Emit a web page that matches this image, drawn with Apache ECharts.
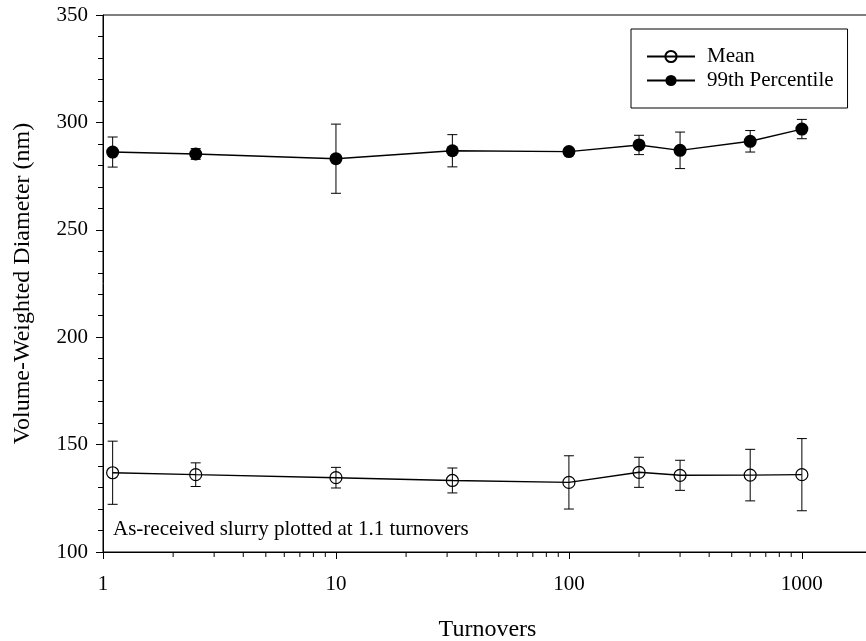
<!DOCTYPE html>
<html>
<head>
<meta charset="utf-8">
<script src="https://cdn.jsdelivr.net/npm/echarts@6/dist/echarts.min.js"></script>
<style>
html,body{margin:0;padding:0;background:#fff;}
#chart{width:866px;height:641px;}
</style>
</head>
<body>
<div id="chart"></div>
<script>
// ---- data ----
const turnovers = [1.1, 2.5, 10, 31.6, 100, 200, 300, 600, 1000];
const meanValues = [136.9, 136.0, 134.6, 133.3, 132.4, 137.1, 135.7, 135.8, 136.0];
const meanErrors = [14.7, 5.5, 4.8, 5.8, 12.4, 7.0, 7.0, 12.0, 16.8];
const p99Values = [286.2, 285.3, 283.1, 286.8, 286.4, 289.5, 287.0, 291.2, 296.9];
const p99Errors = [7.0, 2.5, 16.1, 7.5, 1.0, 4.5, 8.5, 5.0, 4.5];
const xTickLabels = [1, 10, 100, 1000];
const xMinorTicks = [2,3,4,5,6,7,8,9,20,30,40,50,60,70,80,90,200,300,400,500,600,700,800,900];
const yTickLabels = [100, 150, 200, 250, 300, 350];

const FONT = '"Liberation Serif", "Times New Roman", serif';

function pairs(xs, ys) { return xs.map((x, i) => [x, ys[i]]); }
function errData(xs, ys, es) { return xs.map((x, i) => [x, ys[i] - es[i], ys[i] + es[i]]); }

function errorBarItem(params, api) {
  const x = api.value(0);
  const lo = api.coord([x, api.value(1)]);
  const hi = api.coord([x, api.value(2)]);
  const cap = 5;
  const style = { stroke: '#000', lineWidth: 1, fill: null };
  return {
    type: 'group',
    children: [
      { type: 'line', shape: { x1: lo[0], y1: lo[1], x2: hi[0], y2: hi[1] }, style: style },
      { type: 'line', shape: { x1: lo[0] - cap, y1: lo[1], x2: lo[0] + cap, y2: lo[1] }, style: style },
      { type: 'line', shape: { x1: hi[0] - cap, y1: hi[1], x2: hi[0] + cap, y2: hi[1] }, style: style }
    ]
  };
}

function minorTickItem(params, api) {
  const p = api.coord([api.value(0), api.value(1)]);
  return {
    type: 'line',
    shape: { x1: p[0], y1: p[1], x2: p[0], y2: p[1] + 5 },
    style: { stroke: '#000', lineWidth: 1 }
  };
}

const chart = echarts.init(document.getElementById('chart'), null, { renderer: 'canvas' });
chart.setOption({
  animation: false,
  backgroundColor: '#fff',
  grid: {
    left: 103, top: 15, width: 769, bottom: 89,
    outerBoundsMode: 'none', containLabel: false,
    show: true, borderColor: '#000', borderWidth: 1, backgroundColor: 'transparent'
  },
  xAxis: {
    type: 'log', logBase: 10, min: 1, max: 2000,
    name: 'Turnovers', nameLocation: 'middle', nameGap: 66,
    nameTextStyle: { fontFamily: FONT, fontSize: 24, color: '#000' },
    axisLine: { onZero: false, lineStyle: { color: '#000', width: 1 } },
    axisTick: { inside: false, length: 7, lineStyle: { color: '#000' } },
    axisLabel: {
      margin: 22, fontFamily: FONT, fontSize: 21, color: '#000', showMaxLabel: false,
      formatter: function (v) {
        const r = Math.round(v);
        return xTickLabels.indexOf(r) >= 0 ? String(r) : '';
      }
    },
    splitLine: { show: false }, minorTick: { show: false }
  },
  yAxis: {
    type: 'value', min: yTickLabels[0], max: yTickLabels[yTickLabels.length - 1], interval: 50,
    name: 'Volume-Weighted Diameter (nm)', nameLocation: 'middle', nameGap: 68,
    nameTextStyle: { fontFamily: FONT, fontSize: 24, color: '#000' },
    axisLine: { show: true, lineStyle: { color: '#000', width: 1 } },
    axisTick: { show: true, inside: false, length: 7, lineStyle: { color: '#000' } },
    minorTick: { show: true, splitNumber: 5, length: 5, lineStyle: { color: '#000' } },
    axisLabel: { margin: 15, fontFamily: FONT, fontSize: 21, color: '#000' },
    splitLine: { show: false }
  },
  legend: {
    left: 631, top: 29,
    orient: 'vertical',
    data: ['Mean', '99th Percentile'],
    borderColor: '#000', borderWidth: 1, borderRadius: 0,
    padding: [17, 14, 17, 15],
    itemWidth: 48, itemHeight: 14, itemGap: 3,
    textStyle: { fontFamily: FONT, fontSize: 21, color: '#000', lineHeight: 21, padding: [0, 0, 0, 7] }
  },
  graphic: [
    {
      type: 'text', left: 113, top: 519,
      style: { text: 'As-received slurry plotted at 1.1 turnovers', font: '21px ' + FONT, fill: '#000' }
    }
  ],
  series: [
    {
      name: 'Mean err', type: 'custom', renderItem: errorBarItem,
      data: errData(turnovers, meanValues, meanErrors), z: 1, silent: true
    },
    {
      name: '99th err', type: 'custom', renderItem: errorBarItem,
      data: errData(turnovers, p99Values, p99Errors), z: 1, silent: true
    },
    {
      name: 'x minor ticks', type: 'custom', renderItem: minorTickItem,
      data: xMinorTicks.map(v => [v, yTickLabels[0]]), z: 1, silent: true, clip: false
    },
    {
      name: 'Mean', type: 'line', data: pairs(turnovers, meanValues),
      symbol: 'circle', symbolSize: 12, z: 3,
      lineStyle: { color: '#000', width: 1.4 },
      itemStyle: { color: 'rgba(255,255,255,0)', borderColor: '#000', borderWidth: 1.2 }
    },
    {
      name: '99th Percentile', type: 'line', data: pairs(turnovers, p99Values),
      symbol: 'circle', symbolSize: 13, z: 3,
      lineStyle: { color: '#000', width: 1.4 },
      itemStyle: { color: '#000', borderColor: '#000', borderWidth: 0 }
    }
  ]
});
</script>
</body>
</html>
